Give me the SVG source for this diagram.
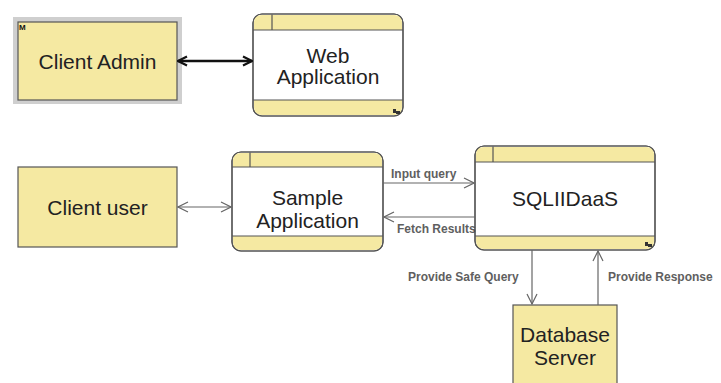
<svg xmlns="http://www.w3.org/2000/svg" width="721" height="383" viewBox="0 0 721 383">
<style>
.box{fill:#f5e9a2;stroke:#555;stroke-width:1.2}
.win{fill:#fff;stroke:#555;stroke-width:1.2}
.band{fill:#f5e9a2;stroke:none}
.ln{stroke:#555;stroke-width:1.2;fill:none}
.big{font-family:"Liberation Sans",Arial,sans-serif;font-size:21px;fill:#222;text-anchor:middle}
.lbl{font-family:"Liberation Sans",Arial,sans-serif;font-size:12px;fill:#444;font-weight:bold;opacity:0.85}
.thin{stroke:#666;stroke-width:1.2;fill:none}
.thick{stroke:#111;stroke-width:2.5;fill:none}
.ico{fill:#333}
</style>
<defs>
<marker id="open" viewBox="0 0 12 12" refX="11" refY="6" markerWidth="12" markerHeight="12" markerUnits="userSpaceOnUse" orient="auto-start-reverse">
<path d="M1,1 L11,6 L1,11" fill="none" stroke="#666" stroke-width="1.2"/>
</marker>
<marker id="bold" viewBox="0 0 12 12" refX="11" refY="6" markerWidth="12" markerHeight="12" markerUnits="userSpaceOnUse" orient="auto-start-reverse">
<path d="M2,1.5 L11,6 L2,10.5" fill="none" stroke="#111" stroke-width="2.2"/>
</marker>
</defs>

<g id="client-admin">
<rect x="13" y="17" width="169" height="87" fill="#cfcfcf"/>
<rect class="box" x="18" y="22" width="159" height="78"/>
<text x="19" y="30" font-family="Liberation Sans,Arial,sans-serif" font-size="8" font-weight="bold" fill="#111">M</text>
<text class="big" x="97.5" y="68.5">Client Admin</text>
</g>

<g id="web-application">
<rect class="win" x="253" y="14" width="150" height="102" rx="9"/>
<path class="band" d="M254,30 L254,22 Q254,15 262,15 L394,15 Q402,15 402,22 L402,30 Z"/>
<path class="band" d="M254,100 L254,107 Q254,115 262,115 L394,115 Q402,115 402,107 L402,100 Z"/>
<rect x="253" y="14" width="150" height="102" rx="9" fill="none" stroke="#555" stroke-width="1.2"/>
<line class="ln" x1="253" y1="30" x2="403" y2="30"/>
<line class="ln" x1="253" y1="100" x2="403" y2="100"/>
<line class="ln" x1="272" y1="14.5" x2="272" y2="30"/>
<rect class="ico" x="393" y="109" width="3" height="4"/><rect class="ico" x="396" y="111" width="4" height="3"/>
<text class="big" x="328" y="63">Web</text>
<text class="big" x="328" y="84">Application</text>
</g>

<g id="client-user">
<rect class="box" x="18" y="167" width="159" height="80"/>
<text class="big" x="97.5" y="215">Client user</text>
</g>

<g id="sample-application">
<rect class="win" x="232" y="152" width="151" height="99" rx="9"/>
<path class="band" d="M233,167 L233,160 Q233,153 241,153 L374,153 Q382,153 382,160 L382,167 Z"/>
<path class="band" d="M233,236 L233,242 Q233,250 241,250 L374,250 Q382,250 382,242 L382,236 Z"/>
<rect x="232" y="152" width="151" height="99" rx="9" fill="none" stroke="#555" stroke-width="1.2"/>
<line class="ln" x1="232" y1="167" x2="383" y2="167"/>
<line class="ln" x1="232" y1="236" x2="383" y2="236"/>
<line class="ln" x1="250" y1="152.5" x2="250" y2="167"/>
<text class="big" x="307.5" y="205">Sample</text>
<text class="big" x="307.5" y="228">Application</text>
</g>

<g id="sqliidaas">
<rect class="win" x="475" y="146" width="180" height="104" rx="9"/>
<path class="band" d="M476,162 L476,154 Q476,147 484,147 L646,147 Q654,147 654,154 L654,162 Z"/>
<path class="band" d="M476,236 L476,241 Q476,249 484,249 L646,249 Q654,249 654,241 L654,236 Z"/>
<rect x="475" y="146" width="180" height="104" rx="9" fill="none" stroke="#555" stroke-width="1.2"/>
<line class="ln" x1="475" y1="162" x2="655" y2="162"/>
<line class="ln" x1="475" y1="236" x2="655" y2="236"/>
<line class="ln" x1="493" y1="146.5" x2="493" y2="162"/>
<rect class="ico" x="645" y="242" width="3" height="4"/><rect class="ico" x="648" y="244" width="4" height="3"/>
<text class="big" x="565" y="206">SQLIIDaaS</text>
</g>

<g id="database-server">
<rect class="box" x="513" y="305" width="104" height="82"/>
<text class="big" x="565" y="342">Database</text>
<text class="big" x="565" y="365">Server</text>
</g>

<g id="connectors">
<line class="thick" x1="178" y1="61" x2="252" y2="61" marker-start="url(#bold)" marker-end="url(#bold)"/>
<line class="thin" x1="178" y1="207" x2="231" y2="207" marker-start="url(#open)" marker-end="url(#open)"/>
<line class="thin" x1="383" y1="183" x2="474" y2="183" marker-end="url(#open)"/>
<text class="lbl" x="391" y="178">Input query</text>
<line class="thin" x1="475" y1="217" x2="384" y2="217" marker-end="url(#open)"/>
<text class="lbl" x="397" y="233">Fetch Results</text>
<line class="thin" x1="532" y1="250" x2="532" y2="304" marker-end="url(#open)"/>
<text class="lbl" x="408" y="281">Provide Safe Query</text>
<line class="thin" x1="598" y1="305" x2="598" y2="251" marker-end="url(#open)"/>
<text class="lbl" x="608" y="281">Provide Response</text>
</g>
</svg>
